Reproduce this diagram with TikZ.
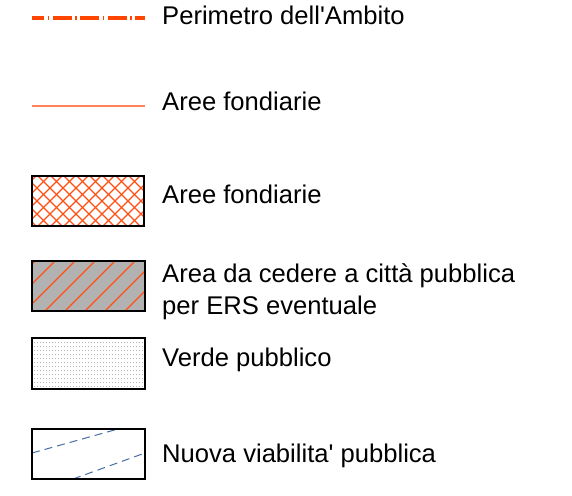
\documentclass[tikz,border=0pt]{standalone}
\usepackage{fontspec}
\setmainfont{Liberation Sans}[Ligatures=TeXOff]
\definecolor{perim}{RGB}{255,69,0}
\definecolor{fond}{RGB}{255,130,90}
\definecolor{hatch}{RGB}{255,80,20}
\definecolor{viab}{RGB}{70,110,165}
\definecolor{ersgray}{RGB}{178,178,178}
\begin{document}
\begin{tikzpicture}[x=1pt,y=-1pt,
  lbl/.style={anchor=base west,inner sep=0pt,font=\fontsize{25.6}{32}\selectfont,align=left},
  box/.style={draw=black,line width=1.4pt}]
\useasboundingbox (0,0) rectangle (572,495);
% 1 perimeter
\draw[perim,line width=3.5pt,dash pattern=on 19pt off 3.5pt on 1.5pt off 3.5pt,dash phase=7pt] (32,18) coordinate (p1) -- (145,18) coordinate (p2);
\node[lbl] (t1) at (162,25) {Perimetro dell'Ambito};
% 2 thin line
\draw[fond,line width=1.5pt] (32,106) coordinate (f1) -- (145,106) coordinate (f2);
\node[lbl] (t2) at (162,110) {Aree fondiarie};
% 3 crosshatch
\fill[white] (32,176) rectangle (144,226);
\begin{scope}
\clip (32,176) rectangle (144,226);
\foreach \i in {-66,-53,...,160} {
  \draw[hatch,line width=1.1pt] (\i,176) -- (\i+50,226);
  \draw[hatch,line width=1.1pt] (\i,226) -- (\i+50,176);
}
\end{scope}
\draw[box] (32,176) rectangle (144,226);
\node[lbl] (t3) at (162,203) {Aree fondiarie};
% 4 ERS
\fill[ersgray] (32,261) rectangle (145,311);
\begin{scope}
\clip (32,261) rectangle (145,311);
\foreach \i in {-55,-35,...,160} {
  \draw[hatch,line width=1.1pt] (\i,311) -- (\i+50,261);
}
\end{scope}
\draw[box] (32,261) rectangle (145,311);
\node[lbl] (t4) at (162,282) {Area da cedere a città pubblica};
\node[lbl] (t4b) at (162,314) {per ERS eventuale};
% 5 verde
\fill[white] (32,338) rectangle (145,389);
\foreach \y in {342,346,...,386} {
  \foreach \x in {34,37,...,143} {
    \fill[black!30] (\x,\y) rectangle ++(0.9,0.9);
  }
}
\draw[box] (32,338) rectangle (145,389);
\node[lbl] (t5) at (162,366) {Verde pubblico};
% 6 viabilita
\fill[white] (32,429) rectangle (145,479);
\begin{scope}
\clip (32,429) rectangle (145,479);
\draw[viab,line width=1pt,dash pattern=on 8pt off 5pt] (32,453) -- (118,429);
\draw[viab,line width=1pt,dash pattern=on 8pt off 5pt] (73,479) -- (145,453);
\end{scope}
\draw[box] (32,429) rectangle (145,479);
\node[lbl] (t6) at (162,462) {Nuova viabilita' pubblica};
\end{tikzpicture}
\end{document}
